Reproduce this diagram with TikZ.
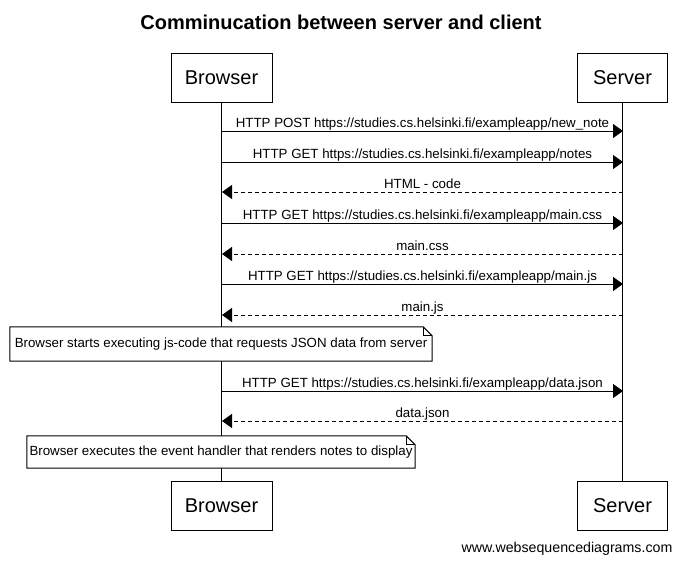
\documentclass[tikz,border=0pt]{standalone}
\usepackage{fontspec}
\setmainfont{Liberation Sans}
\usepackage{tikz}
\usetikzlibrary{arrows.meta, positioning}
\tikzstyle{actor} = [draw, line width=1pt, minimum height=49pt, font=\fontsize{20}{24}\selectfont]
\tikzstyle{life}  = [draw, line width=1pt]
\tikzstyle{msg}   = [draw, line width=1pt, -{Triangle[length=10pt, width=14pt]}]
\tikzstyle{ret}   = [msg, dash pattern=on 4pt off 3pt]
\tikzstyle{lbl}   = [anchor=base, yshift=3.5pt, inner sep=0pt, font=\fontsize{13.3}{15}\selectfont]
\tikzstyle{note}  = [fill=white, inner sep=0pt, font=\fontsize{13.3}{15}\selectfont]
\newcommand{\notefold}[1]{%
  \draw [line width=1pt] (#1.north west) -- ([xshift=-9pt]#1.north east)
        -- ([yshift=-9pt]#1.north east) -- (#1.south east) -- (#1.south west) -- cycle;
  \draw [line width=1pt] ([xshift=-9pt]#1.north east) |- ([yshift=-9pt]#1.north east);}
\begin{document}
\begin{tikzpicture}[x=1pt, y=-1pt]

\useasboundingbox (0,0) rectangle (681,565);

%actors
\node [font=\fontsize{20}{24}\selectfont\bfseries] (title) at (341,22) {Comminucation between server and client};
\node [actor, minimum width=101pt] (bT) at (221.5,77.5) {Browser};
\node [actor, minimum width=90pt ] (sT) at (622.5,77.5) {Server};
\node [actor, minimum width=101pt] (bB) at (221.5,505.5) {Browser};
\node [actor, minimum width=90pt ] (sB) at (622.5,505.5) {Server};

\path [life] (bT) -- (bB)
             (sT) -- (sB);

% message ends
\coordinate (b1) at (222,131); \coordinate (s1) at (623,131);
\coordinate (b2) at (222,162); \coordinate (s2) at (623,162);
\coordinate (b3) at (222,192); \coordinate (s3) at (623,192);
\coordinate (b4) at (222,223); \coordinate (s4) at (623,223);
\coordinate (b5) at (222,254); \coordinate (s5) at (623,254);
\coordinate (b6) at (222,284); \coordinate (s6) at (623,284);
\coordinate (b7) at (222,315); \coordinate (s7) at (623,315);
\coordinate (b8) at (222,391); \coordinate (s8) at (623,391);
\coordinate (b9) at (222,421); \coordinate (s9) at (623,421);

% requests and replies
\path [msg] (b1) -- node [lbl] {HTTP POST https://studies.cs.helsinki.fi/exampleapp/new\_note} (s1);
\path [msg] (b2) -- node [lbl] {HTTP GET https://studies.cs.helsinki.fi/exampleapp/notes} (s2);
\path [ret] (s3) -- node [lbl] {HTML - code} (b3);
\path [msg] (b4) -- node [lbl] {HTTP GET https://studies.cs.helsinki.fi/exampleapp/main.css} (s4);
\path [ret] (s5) -- node [lbl] {main.css} (b5);
\path [msg] (b6) -- node [lbl] {HTTP GET https://studies.cs.helsinki.fi/exampleapp/main.js} (s6);
\path [ret] (s7) -- node [lbl] {main.js} (b7);
\path [msg] (b8) -- node [lbl] {HTTP GET https://studies.cs.helsinki.fi/exampleapp/data.json} (s8);
\path [ret] (s9) -- node [lbl] {data.json} (b9);

% notes
\node [note, minimum width=422pt, minimum height=34pt] (n1) at (221,344)
      {Browser starts executing js-code that requests JSON data from server};
\notefold{n1}
\node [note, minimum width=388pt, minimum height=32pt] (n2) at (221,452)
      {Browser executes the event handler that renders notes to display};
\notefold{n2}

\node [font=\fontsize{14.2}{16}\selectfont] (web) at (567,549) {www.websequencediagrams.com};

\end{tikzpicture}
\end{document}
